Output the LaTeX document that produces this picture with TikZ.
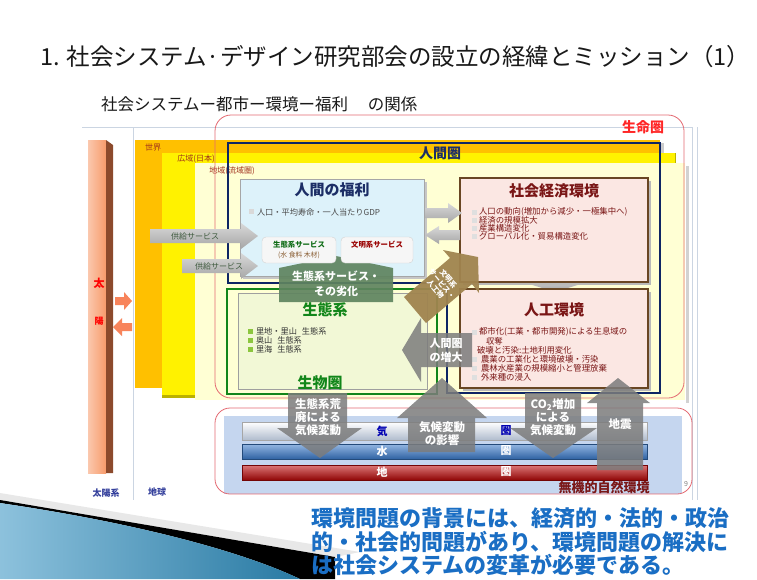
\documentclass[tikz,border=0pt]{standalone}
\usepackage{fontspec}
\setmainfont{Noto Sans CJK JP}
\definecolor{orW}{HTML}{FFC000}
\definecolor{yeW}{HTML}{FFF200}
\definecolor{ltY}{HTML}{FFFFD4}
\definecolor{navyC}{HTML}{0E2564}
\definecolor{grnC}{HTML}{12861A}
\definecolor{redL}{HTML}{E46A72}
\definecolor{sunO}{HTML}{F79B6B}
\definecolor{sunD}{HTML}{8C4A2C}
\definecolor{dred}{HTML}{7A1616}
\definecolor{wfB}{HTML}{DDF2FA}
\definecolor{pinkB}{HTML}{FBE7E3}
\definecolor{ecoB}{HTML}{F2F8D6}
\definecolor{bnrG}{HTML}{5F845F}
\definecolor{arrG}{HTML}{7C7C7C}
\definecolor{brnA}{HTML}{A0844F}
\definecolor{txtB}{HTML}{1A6EC4}
\definecolor{panB}{HTML}{C5D6EF}
\definecolor{watB}{HTML}{3B7BCB}
\definecolor{erdR}{HTML}{C00808}
\definecolor{lblB}{HTML}{34409C}
\definecolor{brdG}{HTML}{CBD5E2}
\definecolor{regT}{HTML}{A0301C}
\definecolor{ttlN}{HTML}{1C2E66}
\definecolor{bulG}{HTML}{8CC63E}
\definecolor{supT}{HTML}{3E5A3E}
\definecolor{swB}{HTML}{2F8FC0}
\begin{document}
\begin{tikzpicture}[x=1pt,y=-1pt]
\tikzset{
  lbl/.style={inner sep=0pt, outer sep=0pt},
  grayarrow/.style={fill=arrG, fill opacity=0.85},
  wlab/.style={lbl, text=white, align=center, font=\fontsize{11.5}{13}\selectfont\bfseries},
  boxtitle/.style={lbl, font=\fontsize{15}{17}\selectfont\bfseries},
  bulr/.style={lbl, anchor=west, font=\fontsize{8.4}{10}\selectfont, text=dred},
  bulk/.style={lbl, anchor=west, font=\fontsize{8.2}{10}\selectfont, text=black!80},
  reglbl/.style={lbl, font=\fontsize{8}{9}\selectfont, text=regT},
  bandlbl/.style={lbl, font=\fontsize{11}{12}\selectfont\bfseries},
  suparrow/.style={top color=gray!30, bottom color=gray!70},
  msg/.style={lbl, anchor=west, text=txtB, font=\fontsize{22}{24}\selectfont\bfseries},
}
\useasboundingbox (0,0) rectangle (757,579);
\fill[white] (0,0) rectangle (757,579);

% ---------- titles ----------
\node[lbl, anchor=west, font=\fontsize{23.5}{27}\selectfont, text=black!90] (title) at (40,57)
  {1. 社会システム·デザイン研究部会の設立の経緯とミッション（1）};
\node[lbl, anchor=west, font=\fontsize{16.5}{19}\selectfont, text=black!90] (subtitle) at (101,104)
  {社会システムー都市ー環境ー福利\hspace{1.2em}の関係};

% ---------- faint frame of the embedded figure ----------
\draw[brdG, line width=0.8] (82,127) -- (692,127);
\draw[brdG, line width=0.8] (133,128) -- (133,500);
\draw[brdG, line width=0.8] (692,127) -- (692,500);
\draw[brdG, line width=0.8] (697,127) -- (697,500);

% ---------- sun ----------
\shade[left color=sunO!55!white, right color=sunO] (88,140) rectangle (106,473);
\fill[sunD] (106,140) -- (113,145) -- (113,473) -- (106,473) -- cycle;
\node[lbl, text=red, font=\fontsize{11}{12}\selectfont\bfseries] (taiA) at (99,283) {太};
\node[lbl, text=red, font=\fontsize{9}{10}\selectfont\bfseries] (taiB) at (99,321) {陽};
\fill[sunO!85!red] (115,297) -- (124,297) -- (124,292) -- (132,301) -- (124,310) -- (124,305) -- (115,305) -- cycle;
\fill[sunO!85!red] (113,327) -- (122,318) -- (122,323) -- (132,323) -- (132,331) -- (122,331) -- (122,336) -- cycle;
\node[lbl, text=lblB, font=\fontsize{9}{10}\selectfont\bfseries] (solsys) at (106,493) {太陽系};
\node[lbl, text=lblB, font=\fontsize{9}{10}\selectfont\bfseries] (earth) at (157,492) {地球};

% ---------- nested regions ----------
\fill[gray!40] (661,143) rectangle (664,391);
\fill[orW] (135,140) rectangle (660,388);
\fill[olive!60!yellow] (162,153) rectangle (676,398);
\fill[yeW] (162,153) rectangle (675,395);
\fill[gray!35] (686,166) rectangle (689,403);
\fill[ltY] (195,163) rectangle (685,400);
\node[reglbl] (world) at (153,147) {世界};
\node[reglbl] (wide) at (196,159) {広域(日本)};
\node[reglbl] (local) at (232,171) {地域(流域圏)};

% life sphere
\draw[redL, line width=0.8, rounded corners=16] (215,115) rectangle (684,398);
\node[lbl, text=red!85!white, font=\fontsize{14}{15}\selectfont\bfseries] (lifesph) at (643,127) {生命圏};

% ---------- human sphere / bio sphere frames ----------
\fill[ecoB] (238,293) rectangle (427,389);
\draw[gray!75, line width=0.8] (238,293) rectangle (427,389);
\draw[grnC, line width=2.4] (227,289) rectangle (437,394);
\draw[navyC, line width=2] (228,143) -- (660,143) -- (660,393) -- (447,393) -- (447,283) -- (228,283) -- cycle;
\node[lbl, text=ttlN, font=\fontsize{14}{15}\selectfont\bfseries] (humsph) at (440,153) {人間圏};

% ---------- human welfare box ----------
\fill[gray!45] (243,182) rectangle (427,279);
\draw[gray!70, fill=wfB] (240,179) rectangle (424,276);
\node[boxtitle, text=ttlN] (welfare) at (332,190) {人間の福利};
\fill[gray!30] (249,209) rectangle (254,214);
\node[bulk, text=black!70] (welfb) at (257,212) {人口・平均寿命・一人当たりGDP};

% banner (ecosystem services)
\fill[bnrG, fill opacity=0.92] (279,302) -- (279,268) -- (336,256) -- (393,268) -- (393,302) -- cycle;
\draw[gray!35, fill=gray!7, rounded corners=4] (262,237) rectangle (336,263);
\draw[gray!35, fill=gray!7, rounded corners=4] (341,237) rectangle (413,263);
\node[lbl, text=grnC!80!black, font=\fontsize{7.4}{8}\selectfont\bfseries] (ecoserv) at (299,245) {生態系サービス};
\node[lbl, text=brown!70!black, font=\fontsize{6.8}{8}\selectfont] (ecoserv2) at (299,255) {(水 食料 木材)};
\node[lbl, text=red!60!black, font=\fontsize{7.4}{8}\selectfont\bfseries] (civserv) at (377,245) {文明系サービス};
\node[wlab, font=\fontsize{11}{15}\selectfont\bfseries] (banner) at (336,284) {生態系サービス・\\その劣化};

% supply service arrows
\shade[suparrow] (150,229) -- (241,229) -- (241,223) -- (258,236) -- (241,249) -- (241,243) -- (150,243) -- cycle;
\node[lbl, text=supT, font=\fontsize{8}{9}\selectfont] (sup1) at (195,236) {供給サービス};
\shade[suparrow] (182,259) -- (241,259) -- (241,253) -- (258,266) -- (241,279) -- (241,273) -- (182,273) -- cycle;
\node[lbl, text=supT, font=\fontsize{8}{9}\selectfont] (sup2) at (219,266) {供給サービス};

% ---------- socio-economic box ----------
\shade[suparrow] (540,276) -- (570,276) -- (570,283) -- (584,283) -- (555,292) -- (526,283) -- (540,283) -- cycle;
\fill[gray!55] (463,181) rectangle (651,285);
\draw[brown!55!black, line width=1.1, fill=pinkB] (460,178) rectangle (648,282);
\node[boxtitle, text=dred] (socio) at (554,191) {社会経済環境};
\foreach \yy in {212,220,228,236} {\fill[gray!25] (472,\yy-2.5) rectangle (477,\yy+2.5);}
\node[bulr] (s1) at (479,212) {人口の動向(増加から減少・一極集中へ)};
\node[bulr] (s2) at (479,220) {経済の規模拡大};
\node[bulr] (s3) at (479,228) {産業構造変化};
\node[bulr] (s4) at (479,236) {グローバル化・貿易構造変化};

% arrows welfare <-> socio
\shade[suparrow] (425,208) -- (448,208) -- (448,203) -- (462,213) -- (448,223) -- (448,218) -- (425,218) -- cycle;
\shade[suparrow] (425,235) -- (439,226) -- (439,230) -- (460,230) -- (460,240) -- (439,240) -- (439,244) -- cycle;

% ---------- artificial environment box ----------
\fill[gray!55] (463,292) rectangle (651,391);
\draw[brown!55!black, line width=1.1, fill=pinkB] (460,289) rectangle (648,388);
\node[boxtitle, text=dred] (artif) at (554,310) {人工環境};
\foreach \yy in {332,359,368,377} {\fill[gray!25] (472,\yy-2.5) rectangle (477,\yy+2.5);}
\node[bulr] (a1) at (479,332) {都市化(工業・都市開発)による生息域の};
\node[bulr] (a2) at (486,341) {収奪};
\node[bulr] (a3) at (477,350) {破壊と汚染:土地利用変化};
\node[bulr] (a4) at (481,359) {農業の工業化と環境破壊・汚染};
\node[bulr] (a5) at (481,368) {農林水産業の規模縮小と管理放棄};
\node[bulr] (a6) at (481,377) {外来種の浸入};

% ---------- ecosystem texts ----------
\node[boxtitle, text=grnC] (ecosys) at (325,310) {生態系};
\foreach \yy in {331,340,349} {\fill[bulG] (248,\yy-2.5) rectangle (253,\yy+2.5);}
\node[bulk] (e1) at (256,331) {里地・里山\hspace{0.6em}生態系};
\node[bulk] (e2) at (256,340) {奥山\hspace{0.6em}生態系};
\node[bulk] (e3) at (256,349) {里海\hspace{0.6em}生態系};
\node[boxtitle, text=grnC] (biosph) at (320,383) {生物圏};

% diagonal brown arrow
\fill[brnA, fill opacity=0.95] (404,297) -- (450,258) -- (443,250) -- (478,257) -- (479,293) -- (472,284) -- (426,323) -- cycle;
\node[lbl, text=white, align=center, rotate=-50, font=\fontsize{7.2}{8.4}\selectfont\bfseries] (civarr) at (442,284) {文明系\\サービス・\\人工物};

% human sphere expansion arrow
\fill[grayarrow] (402,350) -- (421,318) -- (421,333) -- (472,333) -- (472,367) -- (421,367) -- (421,382) -- cycle;
\node[wlab, font=\fontsize{11}{14}\selectfont\bfseries] (expand) at (446,350) {人間圏\\の増大};

% ---------- inorganic environment ----------
\fill[panB] (224,416) rectangle (682,494);
\draw[redL, line width=0.8, rounded corners=15] (215,408) rectangle (692,494);
\shade[top color=white, bottom color=panB!70!gray, draw=gray!70] (242,422) rectangle (647,440);
\shade[top color=watB!55!white, bottom color=watB!80!black, draw=watB!60!black] (242,444) rectangle (647,459);
\shade[top color=erdR!55!white, bottom color=erdR!75!black, draw=erdR!60!black] (242,465) rectangle (647,480);
\node[bandlbl, text=blue!70!black] (air1) at (382,431) {気};
\node[bandlbl, text=blue!70!black] (air2) at (506,431) {圏};
\node[bandlbl, text=white] (wat1) at (382,451) {水};
\node[bandlbl, text=white] (wat2) at (506,451) {圏};
\node[bandlbl, text=white] (erd1) at (382,472) {地};
\node[bandlbl, text=white] (erd2) at (506,472) {圏};
\node[lbl, text=dred, font=\fontsize{13}{14}\selectfont\bfseries] (inorg) at (604,488) {無機的自然環境};
\node[lbl, text=gray, font=\fontsize{7}{8}\selectfont] (pgno) at (686,484) {9};

% gray arrows over the bands
\fill[grayarrow] (288,393) -- (347,393) -- (347,428) -- (362,428) -- (320,458) -- (277,428) -- (288,428) -- cycle;
\node[wlab] (ar1) at (318,417) {生態系荒\\廃による\\気候変動};
\fill[grayarrow] (442,378) -- (487,418) -- (475,418) -- (475,452) -- (408,452) -- (408,418) -- (397,418) -- cycle;
\node[wlab] (ar2) at (442,434) {気候変動\\の影響};
\fill[grayarrow] (525,393) -- (581,393) -- (581,428) -- (597,428) -- (553,458) -- (510,428) -- (525,428) -- cycle;
\node[wlab] (ar3) at (553,417) {CO\textsubscript{2}増加\\による\\気候変動};
\fill[grayarrow] (618,378) -- (650,403) -- (643,403) -- (643,470) -- (597,470) -- (597,403) -- (587,403) -- cycle;
\node[wlab] (ar4) at (620,424) {地震};

% ---------- bottom swoosh ----------
\fill[gray!18] (0,493) -- (360,552) -- (335,557) -- (0,500) -- cycle;
\fill[black] (0,500) -- (335,557) -- (335,579) -- (300,579) .. controls (250,555) and (150,525) .. (0,503) -- cycle;
\shade[left color=swB!55!white, right color=swB!85!black] (0,503) .. controls (150,525) and (250,555) .. (300,579) -- (0,579) -- cycle;

% ---------- bottom message ----------
\node[msg] (msg1) at (311,518) {環境問題の背景には、経済的・法的・政治};
\node[msg] (msg2) at (311,542) {的・社会的問題があり、環境問題の解決に};
\node[msg] (msg3) at (311,565) {は社会システムの変革が必要である。};
\end{tikzpicture}
\end{document}
